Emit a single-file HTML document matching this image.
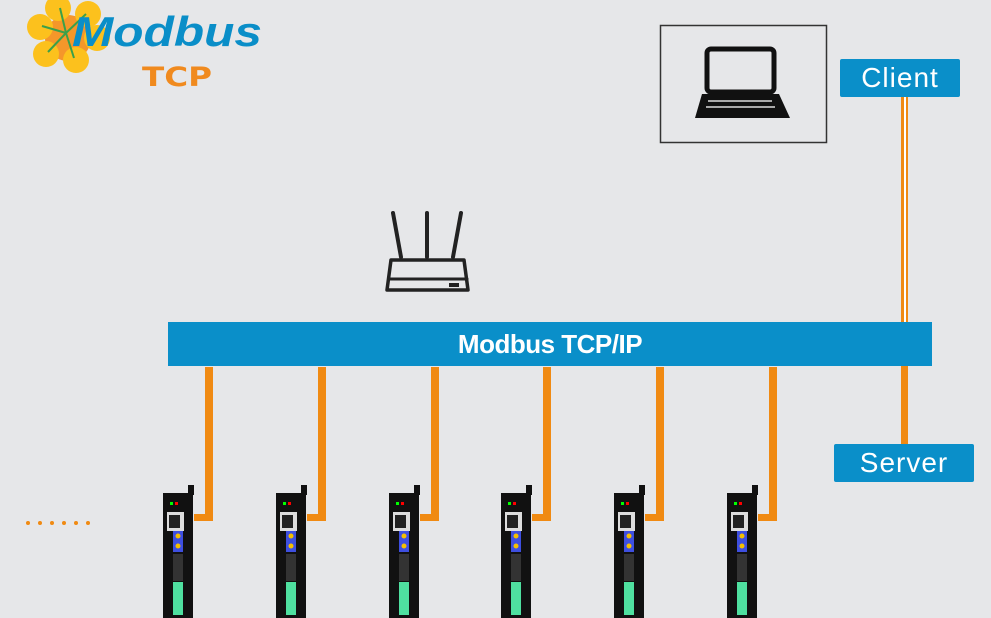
<!DOCTYPE html>
<html><head><meta charset="utf-8"><style>
body{margin:0;width:991px;height:618px;background:#e6e7e9;position:relative;overflow:hidden;font-family:"Liberation Sans","DejaVu Sans",sans-serif}
.a{position:absolute}
.lbl{position:absolute;background:#0a8fc9;color:#fff;font-size:28px;text-align:center;border-radius:2px;letter-spacing:1px}
.o{position:absolute;background:#f08a12}
</style></head><body>
<svg class="a" style="left:0;top:0" width="991" height="618">
<circle cx="68" cy="38" r="23" fill="#f5972a"/>
<circle cx="58" cy="8" r="13" fill="#fcc11d"/><circle cx="88" cy="14" r="13" fill="#fcc11d"/>
<circle cx="40" cy="27" r="13" fill="#fcc11d"/><circle cx="46" cy="54" r="13" fill="#fcc11d"/>
<circle cx="76" cy="60" r="13" fill="#fcc11d"/><circle cx="97" cy="38" r="13" fill="#fcc11d"/>
<g stroke="#3aa04a" stroke-width="2"><line x1="66" y1="33" x2="60" y2="8"/><line x1="66" y1="33" x2="86" y2="14"/><line x1="66" y1="33" x2="42" y2="26"/><line x1="66" y1="33" x2="48" y2="52"/><line x1="66" y1="33" x2="74" y2="58"/></g>
<text x="72" y="46" font-family="Liberation Sans" font-weight="bold" font-style="italic" font-size="42" fill="#0a8ec8" textLength="190" lengthAdjust="spacingAndGlyphs">Modbus</text>
<text x="142" y="86" font-family="DejaVu Sans" font-weight="bold" font-size="27" fill="#f08a1e" textLength="70" lengthAdjust="spacingAndGlyphs">TCP</text>
<rect x="660.5" y="25.5" width="166" height="117" fill="#e6e7e9" stroke="#333" stroke-width="1.5"/>
<rect x="707" y="49" width="67" height="43" rx="4" fill="none" stroke="#111" stroke-width="5"/>
<path d="M702 94 L779 94 L790 118 L695 118 Z" fill="#111"/>
<g stroke="#ddd" stroke-width="1.5"><line x1="708" y1="101" x2="772" y2="101"/><line x1="706" y1="107" x2="775" y2="107"/></g>
<g stroke="#222" stroke-width="4" fill="none" stroke-linecap="round">
<line x1="393" y1="213" x2="401" y2="257"/><line x1="427" y1="213" x2="427" y2="257"/><line x1="461" y1="213" x2="453" y2="257"/>
<path d="M391 260 L464 260 L468 290 L387 290 Z" stroke-width="3.5" stroke-linejoin="round"/>
<line x1="389" y1="279" x2="467" y2="279" stroke-width="3"/>
</g>
<rect x="449" y="283" width="10" height="4" fill="#222"/>
<g fill="#f08a12"><circle cx="28" cy="523" r="2"/><circle cx="40" cy="523" r="2"/><circle cx="52" cy="523" r="2"/><circle cx="64" cy="523" r="2"/><circle cx="76" cy="523" r="2"/><circle cx="88" cy="523" r="2"/></g>
</svg>
<div class="lbl" style="left:840px;top:59px;width:120px;height:38px;line-height:38px">Client</div>
<div class="o" style="left:901px;top:97px;width:7px;height:225px"></div>
<div class="a" style="left:904px;top:97px;width:1.5px;height:225px;background:#fff"></div>
<div class="a" style="left:168px;top:322px;width:764px;height:44px;background:#0a8fc9;color:#fff;font-weight:bold;font-size:26px;text-align:center;line-height:44px;letter-spacing:-0.5px">Modbus TCP/IP</div>
<div class="o" style="left:901px;top:366px;width:7px;height:78px"></div>
<div class="lbl" style="left:834px;top:444px;width:140px;height:38px;line-height:38px">Server</div>
<svg class="a" style="left:0;top:0" width="991" height="618">
<defs><g id="d">
<rect x="-53" y="-125" width="8" height="154" fill="#f08a12"/>
<rect x="-64" y="22" width="19" height="7" fill="#f08a12"/>
<rect x="-95" y="1" width="30" height="126" fill="#111"/>
<rect x="-70" y="-7" width="6" height="10" fill="#111"/>
<rect x="-91" y="20" width="17" height="19" fill="#ddd"/><rect x="-89" y="23" width="11" height="13" fill="#222"/>
<rect x="-85" y="39" width="10" height="21" fill="#3e4fe0"/>
<circle cx="-80" cy="44" r="2.5" fill="#f5c000"/><circle cx="-80" cy="54" r="2.5" fill="#f5c000"/>
<rect x="-85" y="62" width="10" height="27" fill="#333"/>
<rect x="-85" y="90" width="10" height="33" fill="#4fe0a0"/>
<rect x="-88" y="10" width="3" height="3" fill="#0f0"/><rect x="-83" y="10" width="3" height="3" fill="#f00"/>
</g></defs>
<use href="#d" x="258" y="492"/><use href="#d" x="371" y="492"/><use href="#d" x="484" y="492"/>
<use href="#d" x="596" y="492"/><use href="#d" x="709" y="492"/><use href="#d" x="822" y="492"/>
</svg>
</body></html>
